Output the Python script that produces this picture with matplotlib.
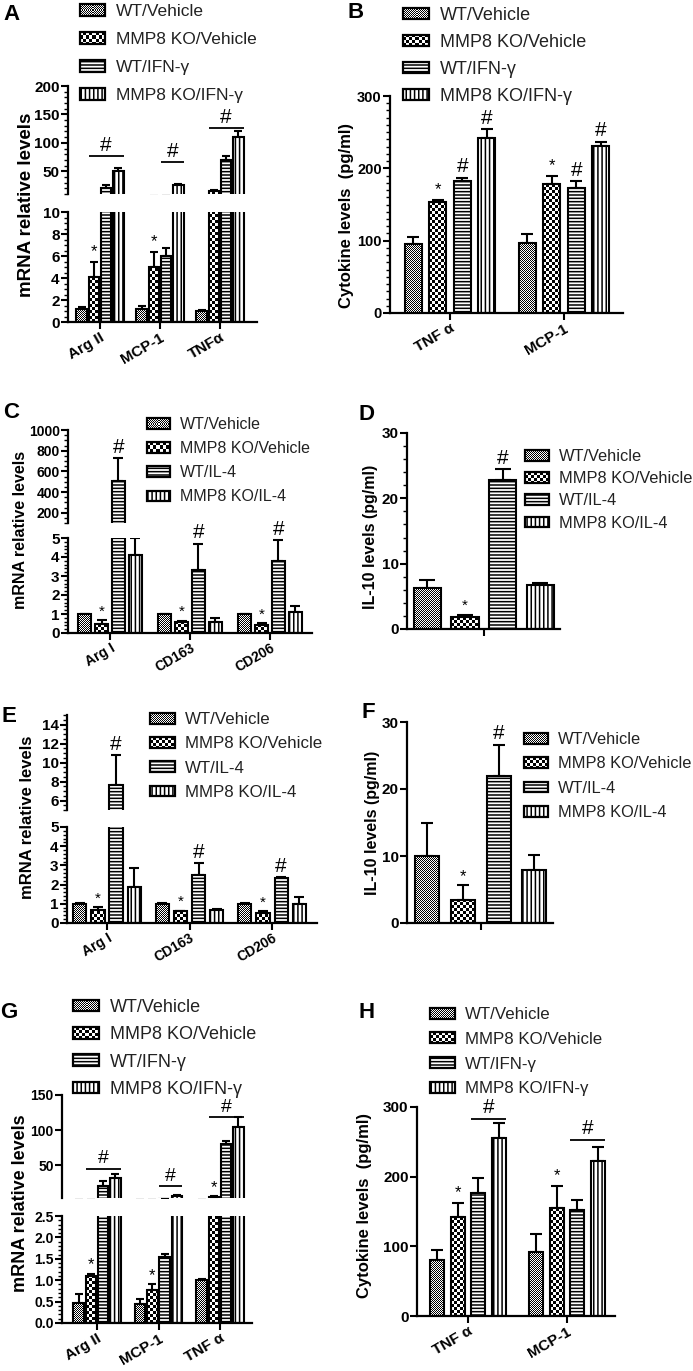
import numpy as np
import matplotlib.pyplot as plt
from matplotlib.patches import Rectangle
from matplotlib.ticker import MultipleLocator, FormatStrFormatter
from matplotlib.legend_handler import HandlerBase
from matplotlib.image import BboxImage
from matplotlib.transforms import Bbox, TransformedBbox
from matplotlib.colors import Normalize

plt.rcParams['font.family'] = ['Liberation Sans', 'DejaVu Sans']
plt.rcParams['font.weight'] = 'bold'
plt.rcParams['hatch.linewidth'] = 1.1

# ---- data ----
ifn_series = ['WT/Vehicle', 'MMP8 KO/Vehicle', 'WT/IFN-γ', 'MMP8 KO/IFN-γ']
il4_series = ['WT/Vehicle', 'MMP8 KO/Vehicle', 'WT/IL-4', 'MMP8 KO/IL-4']

a_genes = ['Arg II', 'MCP-1', 'TNFα']
a_vals = [[1.2, 1.2, 1.0], [4.1, 5.0, 15], [21, 6.0, 70], [51, 25, 111]]
a_errs = [[0.2, 0.3, 0.05], [1.4, 1.4, 1.5], [4, 0.75, 6], [4, 2, 9]]

b_cyto = ['TNF α', 'MCP-1']
b_vals = [[95, 97], [153, 178], [182, 173], [242, 231]]
b_errs = [[10, 12], [3, 12], [5, 9], [12, 6]]

c_genes = ['Arg I', 'CD163', 'CD206']
c_vals = [[1.0, 1.0, 1.0], [0.5, 0.6, 0.4], [510, 3.3, 3.8], [4.1, 0.6, 1.1]]
c_errs = [[0.02, 0.02, 0.02], [0.2, 0.05, 0.12], [220, 1.4, 1.1], [0.9, 0.2, 0.3]]

d_vals = [[6.2], [1.8], [22.8], [6.7]]
d_errs = [[1.3], [0.4], [1.7], [0.4]]

e_genes = ['Arg I', 'CD163', 'CD206']
e_vals = [[1.0, 1.0, 1.0], [0.69, 0.6, 0.52], [7.6, 2.5, 2.33], [1.9, 0.68, 1.0]]
e_errs = [[0.02, 0.02, 0.02], [0.14, 0.05, 0.08], [3.2, 0.6, 0.04], [0.95, 0.03, 0.35]]

f_vals = [[10.0], [3.5], [22.0], [7.9]]
f_errs = [[5.0], [2.1], [4.6], [2.2]]

g_genes = ['Arg II', 'MCP-1', 'TNF α']
g_vals = [[0.47, 0.45, 1.0], [1.1, 0.78, 5], [20, 1.55, 80], [32, 7, 105]]
g_errs = [[0.2, 0.12, 0.02], [0.05, 0.12, 1], [7, 0.07, 5], [6, 1, 13]]

h_cyto = ['TNF α', 'MCP-1']
h_vals = [[80, 92], [142, 155], [176, 152], [255, 223]]
h_errs = [[15, 25], [20, 32], [22, 14], [22, 20]]

# fill style of each series: checker cell size (px) or a hatch
fills = [('tex', 1), ('tex', 3), ('hatch', '-----'), ('hatch', '||||')]

W, H = 693, 1371
fig = plt.figure(figsize=(W / 100, H / 100), dpi=100)
norm = Normalize(0, 1)


def texture(h, w, cell):
    yy, xx = np.indices((max(int(h), 1), max(int(w), 1)))
    return ((yy // cell + xx // cell) % 2).astype(float)


class Swatch:
    def __init__(self, kind, spec):
        self.kind = kind
        self.spec = spec


class SwatchHandler(HandlerBase):
    def create_artists(self, legend, orig, xdescent, ydescent, width, height,
                       fontsize, trans):
        x0, y0 = -xdescent, -ydescent
        if orig.kind == 'tex':
            face = Rectangle((x0, y0), width, height, facecolor='white',
                             edgecolor='none', transform=trans)
            bb = TransformedBbox(Bbox.from_bounds(x0, y0, width, height), trans)
            im = BboxImage(bb, cmap='gray_r', norm=norm, interpolation='nearest')
            im.set_data(texture(round(height * 100 / 72), round(width * 100 / 72),
                                orig.spec))
            frame = Rectangle((x0, y0), width, height, facecolor='none',
                              edgecolor='black', lw=1.6, transform=trans)
            return [face, im, frame]
        frame = Rectangle((x0, y0), width, height, facecolor='white',
                          edgecolor='black', hatch=orig.spec, lw=1.6, transform=trans)
        return [frame]


def add_ax(l, t, r, b):
    return fig.add_axes([l / W, 1 - b / H, (r - l) / W, (b - t) / H])


def style(ax, xlim, ylim, major, minor=None, bottom=True, fs=11, fmt=None):
    ax.set_xlim(*xlim)
    ax.set_ylim(*ylim)
    ax.patch.set_alpha(0)
    for s in ['top', 'right']:
        ax.spines[s].set_visible(False)
    ax.spines['left'].set_linewidth(1.6)
    ax.spines['bottom'].set_linewidth(1.6)
    ax.spines['bottom'].set_visible(bottom)
    ax.yaxis.set_major_locator(MultipleLocator(major))
    if minor:
        ax.yaxis.set_minor_locator(MultipleLocator(minor))
    if fmt:
        ax.yaxis.set_major_formatter(FormatStrFormatter(fmt))
    ax.tick_params(axis='both', which='major', length=5, width=1.5, labelsize=fs, pad=1)
    ax.tick_params(axis='y', which='minor', length=3, width=1.0)
    if not bottom:
        ax.tick_params(axis='x', bottom=False, labelbottom=False)


def draw_bars(axs, centers, vals, errs, step, width, cap):
    for i in range(4):
        kind, spec = fills[i]
        x = centers + (i - 1.5) * step
        v = np.array(vals[i], float)
        e = np.array(errs[i], float)
        for ax in axs:
            ax.errorbar(x, v, yerr=[np.zeros_like(v), e], fmt='none', ecolor='black',
                        elinewidth=1.5, capsize=cap, capthick=1.5, zorder=1)
            if kind == 'hatch':
                ax.bar(x, v, width, color='white', edgecolor='black', hatch=spec,
                       linewidth=1.5, zorder=2)
                continue
            ax.bar(x, v, width, color='white', edgecolor='none', zorder=2)
            y0l, y1l = ax.get_ylim()
            for xi, vi in zip(x, v):
                xa, xb = xi - width / 2, xi + width / 2
                ya, yb = max(0, y0l), min(vi, y1l)
                if yb <= ya:
                    continue
                p0 = ax.transData.transform((xa, ya))
                p1 = ax.transData.transform((xb, yb))
                arr = texture(np.ceil(p1[1] - p0[1]), np.ceil(p1[0] - p0[0]), spec)
                ax.imshow(arr, extent=(xa, xb, ya, yb), origin='lower', cmap='gray_r',
                          norm=norm, interpolation='nearest', aspect='auto', zorder=2.2)
            ax.bar(x, v, width, fill=False, edgecolor='black', linewidth=1.5, zorder=3)
        for ax in axs:
            ax.set_ylim(*ax.get_ylim())


def pick(lo, hi, y):
    if hi is not None and y > lo.get_ylim()[1]:
        return hi
    return lo


def mark(lo, hi, centers, step, vals, errs, marks, sym, fs, dy=1):
    for g, s in marks:
        x = centers[g] + (s - 1.5) * step
        top = vals[s][g] + errs[s][g]
        ax = pick(lo, hi, top)
        ax.annotate(sym, (x, top), xytext=(0, dy), textcoords='offset points',
                    ha='center', va='bottom', fontsize=fs, fontweight='normal')


def brackets(ax, centers, step, width, spans, fs):
    for g, s0, s1, y in spans:
        x0 = centers[g] + (s0 - 1.5) * step - width / 2
        x1 = centers[g] + (s1 - 1.5) * step + width / 2
        ax.plot([x0, x1], [y, y], color='black', lw=1.3, solid_capstyle='butt')
        ax.annotate('#', ((x0 + x1) / 2, y), xytext=(0, 1), textcoords='offset points',
                    ha='center', va='bottom', fontsize=fs, fontweight='normal')


def legend(ax, labels, x, y, fs, spacing, hl=1.45, hh=0.62):
    handles = [Swatch(k, s) for k, s in fills]
    ax.legend(handles, labels, handler_map={Swatch: SwatchHandler()},
              loc='upper left', bbox_to_anchor=(x / W, 1 - y / H),
              bbox_transform=fig.transFigure, frameon=False, borderpad=0,
              borderaxespad=0, handlelength=hl, handleheight=hh, handletextpad=0.6,
              labelspacing=spacing, prop={'size': fs, 'weight': 'normal'},
              labelcolor='#222222')


def xlabels(ax, centers, labels, fs=11):
    ax.set_xticks(centers)
    ax.set_xticklabels(labels, rotation=30, ha='right', rotation_mode='anchor',
                       fontsize=fs, fontweight='bold')


# ---- Panel A ----
cA = np.arange(3)
a_hi = add_ax(68, 86, 257, 194)
a_lo = add_ax(68, 212, 257, 322)
style(a_hi, (-0.533, 2.617), (10, 200), 50, 10, bottom=False)
style(a_lo, (-0.533, 2.617), (0, 10), 2, 0.5)
draw_bars([a_hi, a_lo], cA, a_vals, a_errs, 0.205, 0.175, 3)
mark(a_lo, a_hi, cA, 0.205, a_vals, a_errs, [(0, 1), (1, 1)], '*', 12, dy=2)
brackets(a_hi, cA, 0.205, 0.175, [(0, 1, 3, 77), (1, 2, 3, 66), (2, 1, 3, 126)], 15)
xlabels(a_lo, cA, a_genes)
legend(a_hi, ifn_series, 80, 4, 12.5, 0.75)
fig.text(27 / W, 1 - 205 / H, 'mRNA relative levels', rotation=90, ha='center',
         va='center', fontsize=13.5)
fig.text(12 / W, 1 - 14 / H, 'A', ha='center', va='center', fontsize=16)

# ---- Panel B ----
cB = np.arange(2)
b_ax = add_ax(390, 96, 623, 313)
style(b_ax, (-0.526, 1.518), (0, 300), 100, 10, fs=10.5)
draw_bars([b_ax], cB, b_vals, b_errs, 0.215, 0.15, 4.5)
mark(b_ax, None, cB, 0.215, b_vals, b_errs, [(0, 1), (1, 1)], '*', 12, dy=2)
mark(b_ax, None, cB, 0.215, b_vals, b_errs, [(0, 2), (0, 3), (1, 2), (1, 3)], '#', 15)
xlabels(b_ax, cB, b_cyto)
legend(b_ax, ifn_series, 403, 7, 13, 0.55)
fig.text(347 / W, 1 - 215 / H, 'Cytokine levels  (pg/ml)', rotation=90, ha='center',
         va='center', fontsize=12)
fig.text(356 / W, 1 - 12 / H, 'B', ha='center', va='center', fontsize=16)

# ---- Panel C ----
cC = np.arange(3)
c_hi = add_ax(68, 430, 312, 523)
c_lo = add_ax(68, 538, 312, 633)
style(c_hi, (-0.525, 2.525), (100, 1000), 200, 50, bottom=False, fs=10)
style(c_lo, (-0.525, 2.525), (0, 5), 1, 0.2, fs=11)
draw_bars([c_hi, c_lo], cC, c_vals, c_errs, 0.21, 0.16, 3.5)
mark(c_lo, c_hi, cC, 0.21, c_vals, c_errs, [(0, 1), (1, 1), (2, 1)], '*', 11)
mark(c_lo, c_hi, cC, 0.21, c_vals, c_errs, [(0, 2), (1, 2), (2, 2)], '#', 15)
xlabels(c_lo, cC, c_genes, fs=10)
legend(c_hi, il4_series, 147, 417, 11.5, 0.57)
fig.text(21 / W, 1 - 530 / H, 'mRNA relative levels', rotation=90, ha='center',
         va='center', fontsize=11.5)
fig.text(11 / W, 1 - 412 / H, 'C', ha='center', va='center', fontsize=16)

# ---- Panel D ----
cD = np.array([0.0])
d_ax = add_ax(407, 433, 560, 629)
style(d_ax, (-2.04, 2.02), (0, 30), 10, 2)
draw_bars([d_ax], cD, d_vals, d_errs, 1.0, 0.72, 6)
mark(d_ax, None, cD, 1.0, d_vals, d_errs, [(0, 1)], '*', 11)
mark(d_ax, None, cD, 1.0, d_vals, d_errs, [(0, 2)], '#', 15)
d_ax.set_xticks(cD)
d_ax.set_xticklabels([''])
legend(d_ax, il4_series, 525, 449, 11.8, 0.44)
fig.text(370 / W, 1 - 537 / H, 'IL-10 levels (pg/ml)', rotation=90, ha='center',
         va='center', fontsize=11.5)
fig.text(367 / W, 1 - 415 / H, 'D', ha='center', va='center', fontsize=16)

# ---- Panel E ----
cE = np.arange(3)
e_hi = add_ax(67, 715, 317, 810)
e_lo = add_ax(67, 827, 317, 923)
style(e_hi, (-0.485, 2.545), (5, 15), 2, 0.5, bottom=False)
style(e_lo, (-0.485, 2.545), (0, 5), 1, 0.2)
draw_bars([e_hi, e_lo], cE, e_vals, e_errs, 0.22, 0.16, 3.5)
mark(e_lo, e_hi, cE, 0.22, e_vals, e_errs, [(0, 1), (1, 1), (2, 1)], '*', 11)
mark(e_lo, e_hi, cE, 0.22, e_vals, e_errs, [(0, 2), (1, 2), (2, 2)], '#', 15)
xlabels(e_lo, cE, e_genes, fs=10)
legend(e_hi, il4_series, 150, 712, 12.2, 0.55)
fig.text(28 / W, 1 - 817 / H, 'mRNA relative levels', rotation=90, ha='center',
         va='center', fontsize=12)
fig.text(9 / W, 1 - 716 / H, 'E', ha='center', va='center', fontsize=16)

# ---- Panel F ----
cF = np.array([0.0])
f_ax = add_ax(407, 722, 553, 923)
style(f_ax, (-2.07, 2.02), (0, 30), 10)
draw_bars([f_ax], cF, f_vals, f_errs, 1.0, 0.67, 4.5)
mark(f_ax, None, cF, 1.0, f_vals, f_errs, [(0, 1)], '*', 12)
mark(f_ax, None, cF, 1.0, f_vals, f_errs, [(0, 2)], '#', 15)
f_ax.set_xticks(cF)
f_ax.set_xticklabels([''])
legend(f_ax, il4_series, 524, 732, 11.8, 0.57)
fig.text(372 / W, 1 - 823 / H, 'IL-10 levels (pg/ml)', rotation=90, ha='center',
         va='center', fontsize=11.5)
fig.text(368 / W, 1 - 713 / H, 'F', ha='center', va='center', fontsize=16)

# ---- Panel G ----
cG = np.arange(3)
g_hi = add_ax(62, 1095, 252, 1198)
g_lo = add_ax(62, 1216, 252, 1323)
style(g_hi, (-0.57, 2.52), (3.5, 150), 50, bottom=False, fs=10)
style(g_lo, (-0.57, 2.52), (0, 2.5), 0.5, 0.1, fs=10, fmt='%.1f')
draw_bars([g_hi, g_lo], cG, g_vals, g_errs, 0.2, 0.17, 3)
mark(g_lo, g_hi, cG, 0.2, g_vals, g_errs, [(0, 1), (1, 1), (2, 1)], '*', 12)
brackets(g_hi, cG, 0.2, 0.17, [(0, 1, 3, 45), (1, 2, 3, 20), (2, 1, 3, 118)], 14)
xlabels(g_lo, cG, g_genes)
legend(g_hi, ifn_series, 73, 999, 13, 0.57)
fig.text(21 / W, 1 - 1203 / H, 'mRNA relative levels', rotation=90, ha='center',
         va='center', fontsize=13)
fig.text(9 / W, 1 - 1012 / H, 'G', ha='center', va='center', fontsize=16)

# ---- Panel H ----
cH = np.arange(2)
h_ax = add_ax(417, 1107, 615, 1316)
style(h_ax, (-0.515, 1.485), (0, 300), 100)
draw_bars([h_ax], cH, h_vals, h_errs, 0.207, 0.145, 4)
mark(h_ax, None, cH, 0.207, h_vals, h_errs, [(0, 1), (1, 1)], '*', 12, dy=2)
brackets(h_ax, cH, 0.207, 0.145, [(0, 2, 3, 283), (1, 2, 3, 253)], 15)
xlabels(h_ax, cH, h_cyto)
legend(h_ax, ifn_series, 430, 1007, 12.2, 0.58)
fig.text(365 / W, 1 - 1205 / H, 'Cytokine levels  (pg/ml)', rotation=90, ha='center',
         va='center', fontsize=12)
fig.text(367 / W, 1 - 1013 / H, 'H', ha='center', va='center', fontsize=16)

fig.savefig('out.png', dpi=100)
